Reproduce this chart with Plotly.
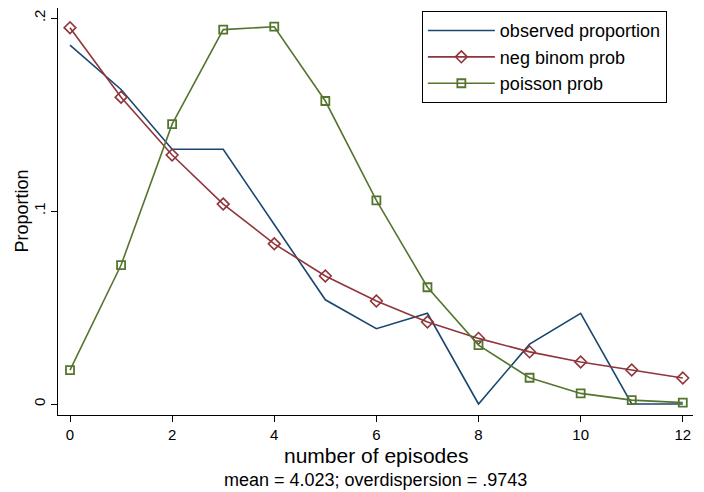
import plotly.graph_objects as go

episodes = list(range(13))
observed = [0.186, 0.163, 0.132, 0.132, 0.093, 0.054, 0.039, 0.047, 0.0, 0.031, 0.047, 0.0, 0.0]
negbin = [0.195, 0.159, 0.129, 0.1036, 0.083, 0.0663, 0.0534, 0.0425, 0.034, 0.027, 0.0218, 0.0176, 0.0135]
poisson = [0.0176, 0.072, 0.145, 0.194, 0.1955, 0.157, 0.1055, 0.0605, 0.0305, 0.0136, 0.0055, 0.002, 0.0007]
xticks = [0, 2, 4, 6, 8, 10, 12]
yticks = [0, 0.1, 0.2]
yticklabels = ["0", ".1", ".2"]

NAVY = "#1a476f"
MAROON = "#90353b"
GREEN = "#55752f"
FONT = "Liberation Sans"

fig = go.Figure()
fig.add_trace(go.Scatter(x=episodes, y=observed, mode="lines", name="observed proportion",
                         line=dict(color=NAVY, width=1.6)))
fig.add_trace(go.Scatter(x=episodes, y=negbin, mode="lines+markers", name="neg binom prob",
                         line=dict(color=MAROON, width=1.6),
                         marker=dict(symbol="diamond-open", size=9, color=MAROON, line=dict(width=1.6))))
fig.add_trace(go.Scatter(x=episodes, y=poisson, mode="lines+markers", name="poisson prob",
                         line=dict(color=GREEN, width=1.6),
                         marker=dict(symbol="square-open", size=8, color=GREEN, line=dict(width=1.8))))

# the page adds an 8px body margin, so the figure is sized 8px smaller
fig.update_layout(
    width=696, height=484,
    margin=dict(l=50, r=11, t=0, b=77, autoexpand=False),
    paper_bgcolor="white", plot_bgcolor="white",
    font=dict(family=FONT, size=15, color="black"),
    showlegend=True,
    legend=dict(x=0.573, y=0.992, xanchor="left", yanchor="top",
                bordercolor="black", borderwidth=1, bgcolor="white",
                font=dict(size=18), itemwidth=67, tracegroupgap=0),
    xaxis=dict(range=[-0.235, 12.2], tickvals=xticks, ticks="outside", ticklen=6,
               tickcolor="black", showline=True, linecolor="black", linewidth=1,
               showgrid=False, zeroline=False, tickfont=dict(size=15), automargin=False),
    yaxis=dict(range=[-0.0057, 0.2052], tickvals=yticks, ticktext=yticklabels,
               tickangle=-90, ticks="outside", ticklen=6, tickcolor="black",
               showline=True, linecolor="black", linewidth=1,
               showgrid=False, zeroline=False, tickfont=dict(size=15), automargin=False),
)
fig.add_annotation(text="number of episodes", x=0.5, y=0, yshift=-40, xref="paper", yref="paper",
                   xanchor="center", yanchor="middle", showarrow=False, font=dict(size=21))
fig.add_annotation(text="mean = 4.023; overdispersion = .9743", x=0.5, y=0, yshift=-65,
                   xref="paper", yref="paper", xanchor="center", yanchor="middle",
                   showarrow=False, font=dict(size=18))
fig.add_annotation(text="Proportion", x=0, y=0.5, xshift=-37, xref="paper", yref="paper",
                   xanchor="center", yanchor="middle", textangle=-90,
                   showarrow=False, font=dict(size=18))
fig.write_html("out.html")
